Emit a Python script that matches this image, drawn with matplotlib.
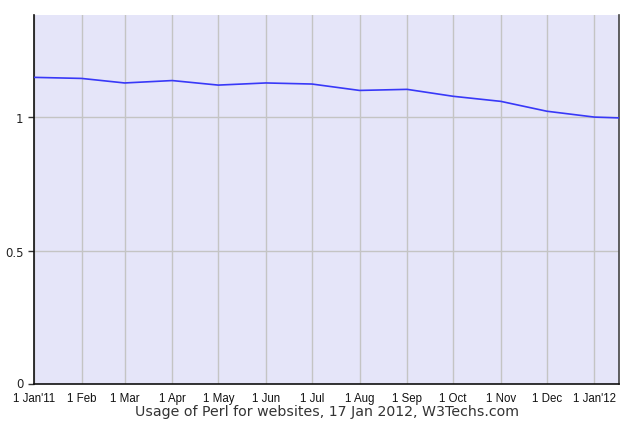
import matplotlib
matplotlib.use("Agg")
import matplotlib.pyplot as plt
import matplotlib.transforms as mtransforms
import numpy as np

# day offsets from 1 Jan 2011
days = [0, 31, 59, 90, 120, 151, 181, 212, 243, 273, 304, 334, 365, 381]
usage = [1.150, 1.146, 1.129, 1.138, 1.121, 1.129, 1.125, 1.101, 1.105, 1.079, 1.060, 1.023, 1.001, 0.998]

tick_days = [0, 31, 59, 90, 120, 151, 181, 212, 243, 273, 304, 334, 365]
tick_labels = ["1 Jan'11", "1 Feb", "1 Mar", "1 Apr", "1 May", "1 Jun", "1 Jul",
               "1 Aug", "1 Sep", "1 Oct", "1 Nov", "1 Dec", "1 Jan'12"]
y_ticks = [0, 0.5, 1]
y_labels = ["0", "0.5", "1"]

W, H = 640, 427
fig = plt.figure(figsize=(W / 100, H / 100), dpi=100)
ax = fig.add_axes([34 / W, 1 - 385 / H, (619 - 34) / W, (385 - 15.7) / H])
ax.set_facecolor("#E5E5F9")

ax.plot(days, usage, color="#3838F8", linewidth=1.2, zorder=3)

ax.set_xlim(0, 381)
ax.set_ylim(0, 1.385)
ax.set_xticks(tick_days)
ax.set_xticklabels(tick_labels, fontsize=8.3, family="Liberation Sans", color="#111111")
ax.set_yticks(y_ticks)
ax.set_yticklabels(y_labels, fontsize=8.5, family="DejaVu Sans", color="#222222")
ax.tick_params(axis="y", length=4.5, width=1, color="#333333", pad=3)
ax.tick_params(axis="x", length=0, pad=5.5)
ax.grid(True, color="#C4C4C4", linewidth=1, zorder=1)

# nudge the "0" label up a little so it clears the first date label
zero_lbl = ax.get_yticklabels()[0]
zero_lbl.set_transform(zero_lbl.get_transform()
                       + mtransforms.ScaledTranslation(0, 2 / 100, fig.dpi_scale_trans))

ax.spines["top"].set_visible(False)
for side in ("left", "bottom"):
    ax.spines[side].set_color("#111111")
    ax.spines[side].set_linewidth(1.2)
ax.spines["right"].set_color("#444444")
ax.spines["right"].set_linewidth(1.2)

fig.text(327 / W, 1 - 412 / H, "Usage of Perl for websites, 17 Jan 2012, W3Techs.com",
         ha="center", va="center", fontsize=10.2, family="DejaVu Sans", color="#333333")

fig.savefig("out.png", dpi=100, facecolor="white")
